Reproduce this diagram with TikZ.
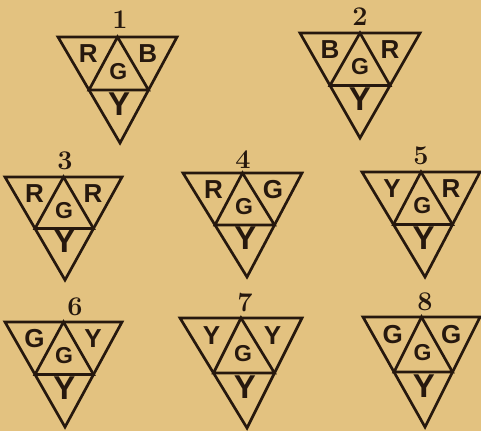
\documentclass[tikz,border=0pt]{standalone}
\usepackage{fontspec}
\newfontfamily\letterfont{Liberation Sans}
\usetikzlibrary{calc}
\definecolor{paper}{RGB}{227,194,128}
\definecolor{ink}{RGB}{38,24,14}

% one split triangle: name, top left, top right, bottom, then the letters
% left, centre, right, bottom
\newcommand{\tri}[8]{%
  \coordinate (#1a) at (#2);
  \coordinate (#1b) at (#3);
  \coordinate (#1c) at (#4);
  \coordinate (#1ab) at ($(#1a)!0.5!(#1b)$);
  \coordinate (#1ac) at ($(#1a)!0.5!(#1c)$);
  \coordinate (#1bc) at ($(#1b)!0.5!(#1c)$);
  \draw[edge] (#1a) -- (#1b) -- (#1c) -- cycle;
  \draw[edge] (#1ab) -- (#1ac) -- (#1bc) -- cycle;
  \node[side] (#1l) at ($.3333*(#1a)+.3333*(#1ab)+.3333*(#1ac)+(0,-1)$) {#5};
  \node[mid] (#1g) at ($.3333*(#1ab)+.3333*(#1ac)+.3333*(#1bc)+(0,-1)$) {#6};
  \node[side] (#1r) at ($.3333*(#1b)+.3333*(#1ab)+.3333*(#1bc)+(0,-1)$) {#7};
  \node[foot] (#1y) at ($.3333*(#1ac)+.3333*(#1bc)+.3333*(#1c)+(0,-4)$) {#8};
}

\begin{document}
\begin{tikzpicture}[x=1pt, y=-1pt,
    edge/.style={draw=ink, line width=2.7pt, line join=miter},
    num/.style={text=ink, inner sep=0pt, font=\fontsize{27}{27}\selectfont\bfseries},
    side/.style={text=ink, inner sep=0pt, font=\letterfont\fontsize{26}{26}\selectfont\bfseries},
    mid/.style={text=ink, inner sep=0pt, font=\letterfont\fontsize{23}{23}\selectfont\bfseries},
    foot/.style={text=ink, inner sep=0pt, font=\letterfont\fontsize{33}{33}\selectfont\bfseries}
]
\fill[paper] (0,0) rectangle (481,431);
\useasboundingbox (0,0) rectangle (481,431);

% top row
\tri{t1}{58,37}{177,37}{120,143}{R}{G}{B}{Y}
\tri{t2}{300,33}{420,33}{360,138}{B}{G}{R}{Y}

% middle row
\tri{t3}{5,177}{122,177}{65,280}{R}{G}{R}{Y}
\tri{t4}{183,173}{302,173}{247,277}{R}{G}{G}{Y}
\tri{t5}{362,172}{480,172}{425,277}{Y}{G}{R}{Y}

% bottom row
\tri{t6}{5,322}{122,322}{65,427}{G}{G}{Y}{Y}
\tri{t7}{180,318}{302,318}{247,428}{Y}{G}{Y}{Y}
\tri{t8}{363,317}{480,317}{425,427}{G}{G}{G}{Y}

\node[num] (n1) at (120,20) {1};
\node[num] (n2) at (360,17) {2};
\node[num] (n3) at (65,161) {3};
\node[num] (n4) at (243,160) {4};
\node[num] (n5) at (421,156) {5};
\node[num] (n6) at (75,307) {6};
\node[num] (n7) at (245,303) {7};
\node[num] (n8) at (425,302) {8};
\end{tikzpicture}
\end{document}
